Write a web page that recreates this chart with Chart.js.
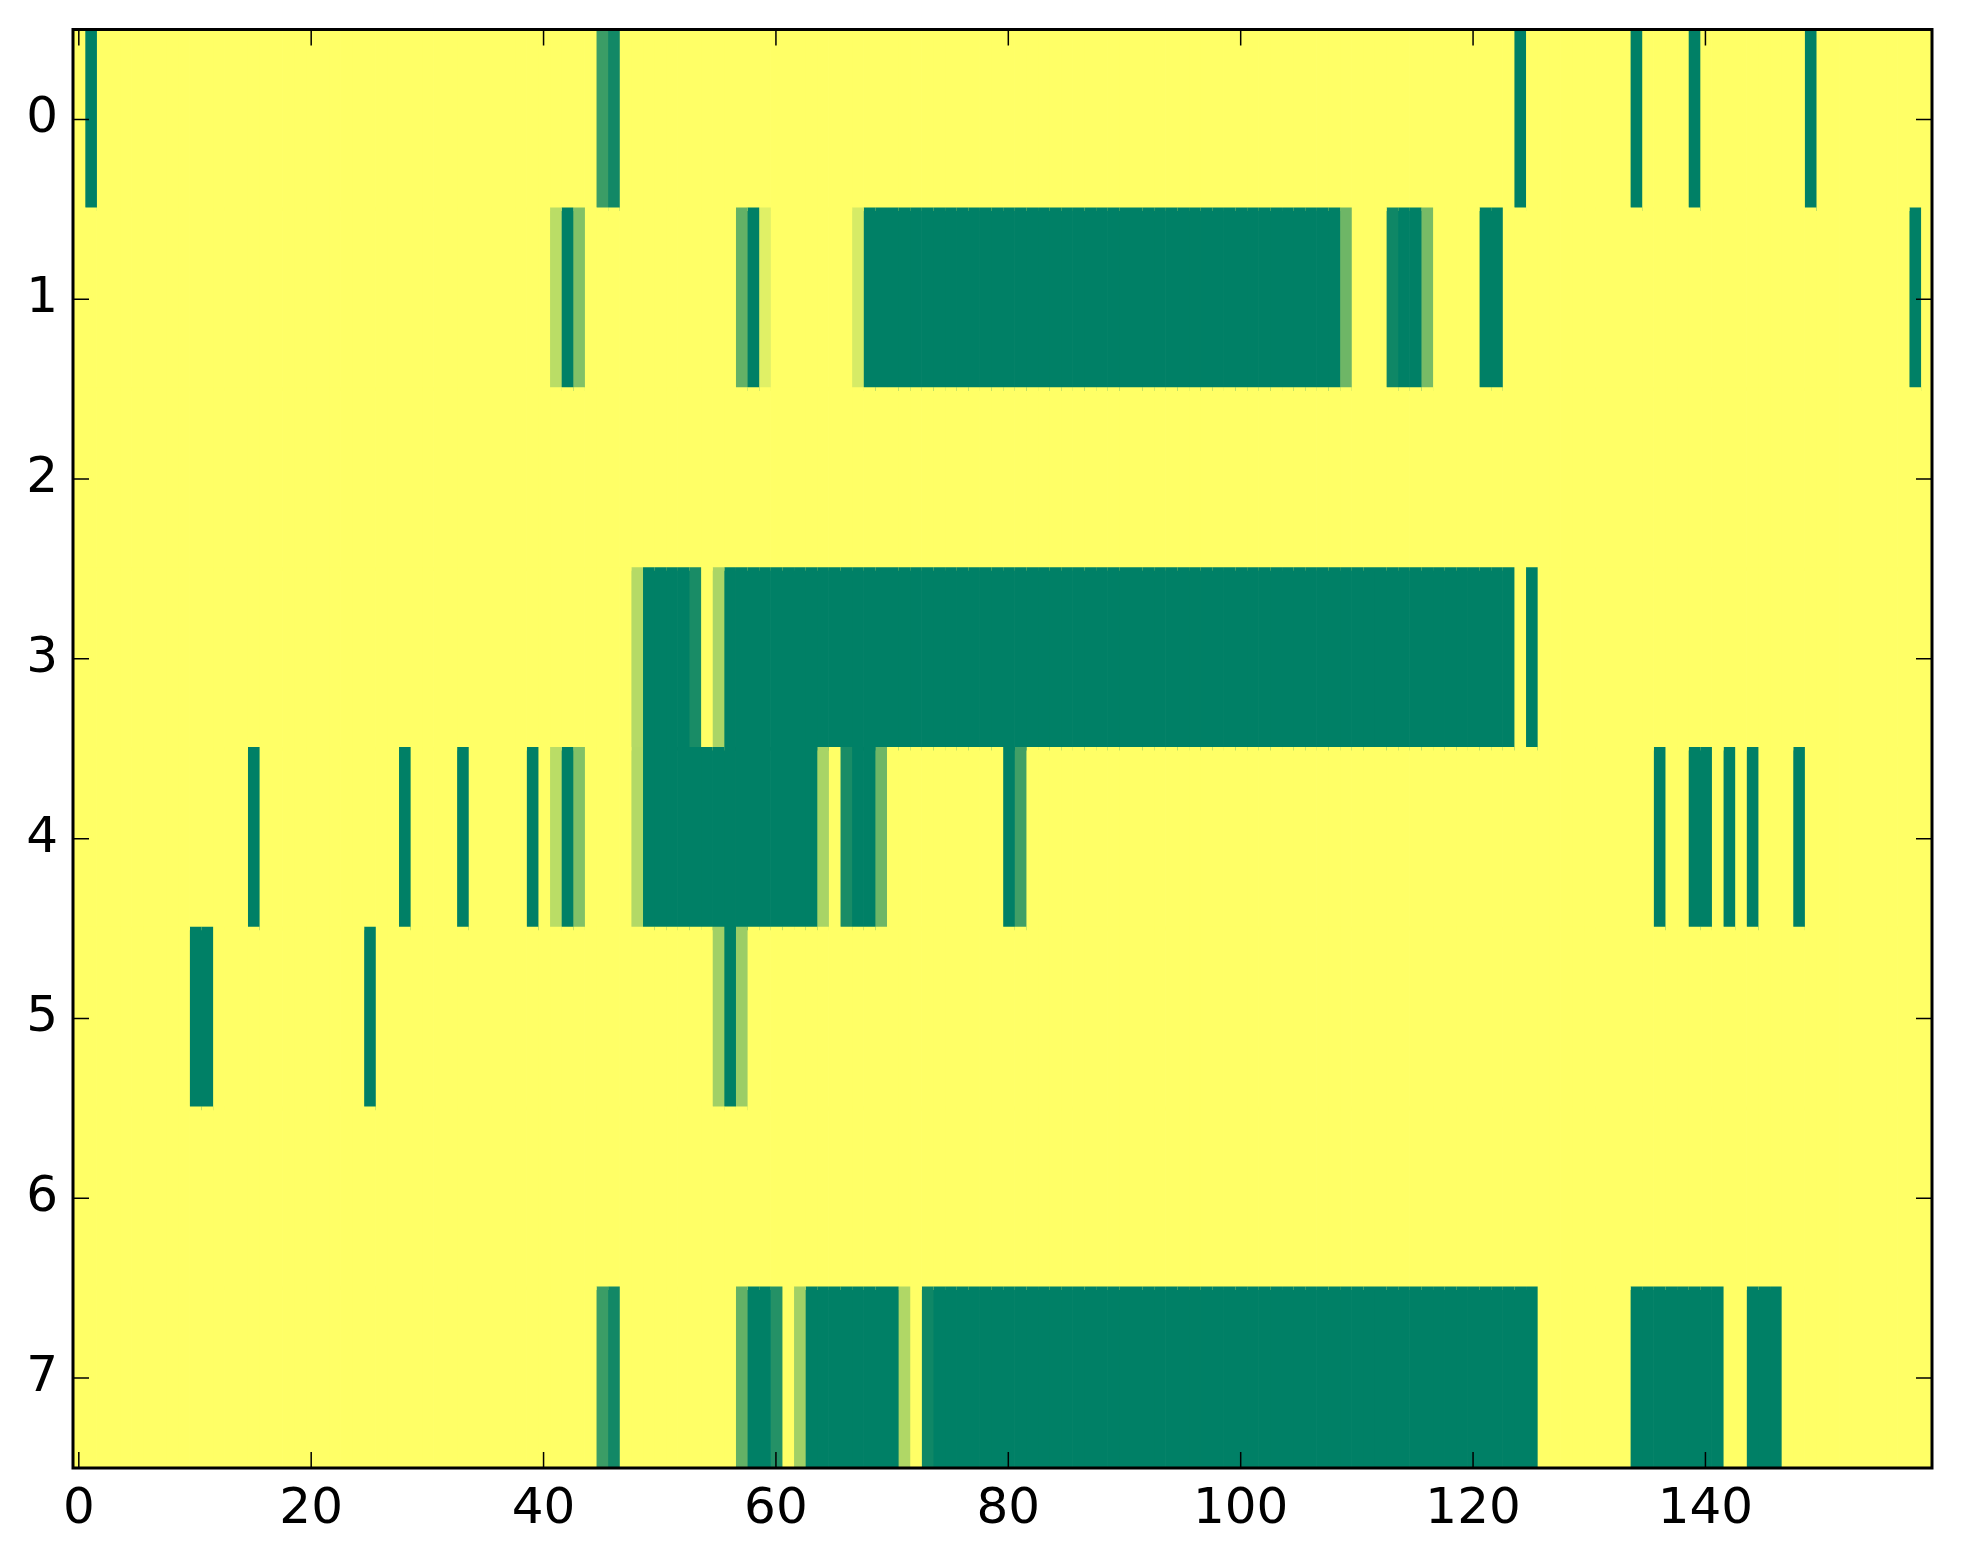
<!DOCTYPE html>
<html><head><meta charset="utf-8">
<script src="https://cdn.jsdelivr.net/npm/chart.js@4/dist/chart.umd.min.js"></script>
<style>html,body{margin:0;padding:0;background:#fff;} #wrap{width:1963px;height:1564px;}</style>
</head><body><div id="wrap"><canvas id="c" width="1963" height="1564"></canvas></div>
<script>
const rowLabels = ['0','1','2','3','4','5','6','7'];
const xTicks = [0,20,40,60,80,100,120,140];
const colIndex = [];
for (let c = 0; c < 160; c++) colIndex.push(c);

const row0 = [
0,1,0,0,0,0,0,0,0,0, 0,0,0,0,0,0,0,0,0,0,
0,0,0,0,0,0,0,0,0,0, 0,0,0,0,0,0,0,0,0,0,
0,0,0,0,0,0.77,0.93,0,0,0, 0,0,0,0,0,0,0,0,0,0,
0,0,0,0,0,0,0,0,0,0, 0,0,0,0,0,0,0,0,0,0,
0,0,0,0,0,0,0,0,0,0, 0,0,0,0,0,0,0,0,0,0,
0,0,0,0,0,0,0,0,0,0, 0,0,0,0,0,0,0,0,0,0,
0,0,0,0,1,0,0,0,0,0, 0,0,0,0,1,0,0,0,0,1,
0,0,0,0,0,0,0,0,0,1, 0,0,0,0,0,0,0,0,0,0
];
const row1 = [
0,0,0,0,0,0,0,0,0,0, 0,0,0,0,0,0,0,0,0,0,
0,0,0,0,0,0,0,0,0,0, 0,0,0,0,0,0,0,0,0,0,
0,0.27,1,0.49,0,0,0,0,0,0, 0,0,0,0,0,0,0,0.61,1,0.12,
0,0,0,0,0,0,0,0.16,1,1, 1,1,1,1,1,1,1,1,1,1,
1,1,1,1,1,1,1,1,1,1, 1,1,1,1,1,1,1,1,1,1,
1,1,1,1,1,1,1,1,1,0.57, 0,0,0,0.94,1,1,0.53,0,0,0,
0,1,1,0,0,0,0,0,0,0, 0,0,0,0,0,0,0,0,0,0,
0,0,0,0,0,0,0,0,0,0, 0,0,0,0,0,0,0,0,1,0
];
const row2 = [
0,0,0,0,0,0,0,0,0,0, 0,0,0,0,0,0,0,0,0,0,
0,0,0,0,0,0,0,0,0,0, 0,0,0,0,0,0,0,0,0,0,
0,0,0,0,0,0,0,0,0,0, 0,0,0,0,0,0,0,0,0,0,
0,0,0,0,0,0,0,0,0,0, 0,0,0,0,0,0,0,0,0,0,
0,0,0,0,0,0,0,0,0,0, 0,0,0,0,0,0,0,0,0,0,
0,0,0,0,0,0,0,0,0,0, 0,0,0,0,0,0,0,0,0,0,
0,0,0,0,0,0,0,0,0,0, 0,0,0,0,0,0,0,0,0,0,
0,0,0,0,0,0,0,0,0,0, 0,0,0,0,0,0,0,0,0,0
];
const row3 = [
0,0,0,0,0,0,0,0,0,0, 0,0,0,0,0,0,0,0,0,0,
0,0,0,0,0,0,0,0,0,0, 0,0,0,0,0,0,0,0,0,0,
0,0,0,0,0,0,0,0,0.29,1, 1,1,1,0.9,0,0.33,1,1,1,1,
1,1,1,1,1,1,1,1,1,1, 1,1,1,1,1,1,1,1,1,1,
1,1,1,1,1,1,1,1,1,1, 1,1,1,1,1,1,1,1,1,1,
1,1,1,1,1,1,1,1,1,1, 1,1,1,1,1,1,1,1,1,1,
1,1,1,1,0,1,0,0,0,0, 0,0,0,0,0,0,0,0,0,0,
0,0,0,0,0,0,0,0,0,0, 0,0,0,0,0,0,0,0,0,0
];
const row4 = [
0,0,0,0,0,0,0,0,0,0, 0,0,0,0,0,1,0,0,0,0,
0,0,0,0,0,0,0,0,1,0, 0,0,0,1,0,0,0,0,0,1,
0,0.27,1,0.49,0,0,0,0,0.3,1, 1,1,1,1,1,1,1,1,1,1,
1,1,1,1,0.34,0,0.9,1,1,0.57, 0,0,0,0,0,0,0,0,0,0,
1,0.75,0,0,0,0,0,0,0,0, 0,0,0,0,0,0,0,0,0,0,
0,0,0,0,0,0,0,0,0,0, 0,0,0,0,0,0,0,0,0,0,
0,0,0,0,0,0,0,0,0,0, 0,0,0,0,0,0,1,0,0,1,
1,0,1,0,1,0,0,0,1,0, 0,0,0,0,0,0,0,0,0,0
];
const row5 = [
0,0,0,0,0,0,0,0,0,0, 1,1,0,0,0,0,0,0,0,0,
0,0,0,0,0,1,0,0,0,0, 0,0,0,0,0,0,0,0,0,0,
0,0,0,0,0,0,0,0,0,0, 0,0,0,0,0,0.37,1,0.39,0,0,
0,0,0,0,0,0,0,0,0,0, 0,0,0,0,0,0,0,0,0,0,
0,0,0,0,0,0,0,0,0,0, 0,0,0,0,0,0,0,0,0,0,
0,0,0,0,0,0,0,0,0,0, 0,0,0,0,0,0,0,0,0,0,
0,0,0,0,0,0,0,0,0,0, 0,0,0,0,0,0,0,0,0,0,
0,0,0,0,0,0,0,0,0,0, 0,0,0,0,0,0,0,0,0,0
];
const row6 = [
0,0,0,0,0,0,0,0,0,0, 0,0,0,0,0,0,0,0,0,0,
0,0,0,0,0,0,0,0,0,0, 0,0,0,0,0,0,0,0,0,0,
0,0,0,0,0,0,0,0,0,0, 0,0,0,0,0,0,0,0,0,0,
0,0,0,0,0,0,0,0,0,0, 0,0,0,0,0,0,0,0,0,0,
0,0,0,0,0,0,0,0,0,0, 0,0,0,0,0,0,0,0,0,0,
0,0,0,0,0,0,0,0,0,0, 0,0,0,0,0,0,0,0,0,0,
0,0,0,0,0,0,0,0,0,0, 0,0,0,0,0,0,0,0,0,0,
0,0,0,0,0,0,0,0,0,0, 0,0,0,0,0,0,0,0,0,0
];
const row7 = [
0,0,0,0,0,0,0,0,0,0, 0,0,0,0,0,0,0,0,0,0,
0,0,0,0,0,0,0,0,0,0, 0,0,0,0,0,0,0,0,0,0,
0,0,0,0,0,0.77,0.93,0,0,0, 0,0,0,0,0,0,0,0.61,1,1,
0.86,0,0.37,1,1,1,1,1,1,1, 1,0.31,0,0.94,1,1,1,1,1,1,
1,1,1,1,1,1,1,1,1,1, 1,1,1,1,1,1,1,1,1,1,
1,1,1,1,1,1,1,1,1,1, 1,1,1,1,1,1,1,1,1,1,
1,1,1,1,1,1,0,0,0,0, 0,0,0,0,1,1,1,1,1,1,
1,1,0,0,1,1,1,0,0,0, 0,0,0,0,0,0,0,0,0,0
];
const rows = [row0,row1,row2,row3,row4,row5,row6,row7];

function summerR(t) {
  const r = Math.round(255 * (1 - t));
  const g = Math.round(255 * (1 - t / 2));
  return 'rgb(' + r + ',' + g + ',102)';
}

const datasets = colIndex.map(c => ({
  data: rows.map((row, i) => ({ x: [c - 0.5, c + 0.56], y: rowLabels[i] })),
  backgroundColor: rows.map(row => summerR(row[c])),
  borderWidth: 0,
  barPercentage: 1.02,
  categoryPercentage: 1.0,
  grouped: false
}));

const framePlugin = {
  id: 'frame',
  afterDraw(chart) {
    const ctx = chart.ctx;
    const a = chart.chartArea;
    const xs = chart.scales.x, ys = chart.scales.y;
    ctx.save();
    ctx.strokeStyle = '#000';
    ctx.lineWidth = 1.5;
    const tl = 16;
    xTicks.forEach(v => {
      const px = xs.getPixelForValue(v);
      ctx.beginPath();
      ctx.moveTo(px, a.bottom); ctx.lineTo(px, a.bottom - tl);
      ctx.moveTo(px, a.top); ctx.lineTo(px, a.top + tl);
      ctx.stroke();
    });
    rowLabels.forEach((lab, i) => {
      const py = ys.getPixelForValue(i);
      ctx.beginPath();
      ctx.moveTo(a.left, py); ctx.lineTo(a.left + tl, py);
      ctx.moveTo(a.right, py); ctx.lineTo(a.right - tl, py);
      ctx.stroke();
    });
    ctx.lineWidth = 3;
    ctx.strokeRect(a.left, a.top, a.right - a.left, a.bottom - a.top);
    ctx.restore();
  }
};

new Chart(document.getElementById('c').getContext('2d'), {
  type: 'bar',
  data: { labels: rowLabels, datasets: datasets },
  options: {
    indexAxis: 'y',
    responsive: false,
    animation: false,
    devicePixelRatio: 1,
    plugins: { legend: { display: false }, tooltip: { enabled: false } },
    layout: { padding: { top: 29.5, right: 31, left: 0, bottom: 0 } },
    scales: {
      x: {
        type: 'linear', min: -0.5, max: 159.5,
        grid: { display: false, drawTicks: false },
        border: { display: false },
        afterBuildTicks: s => { s.ticks = xTicks.map(v => ({ value: v })); },
        afterFit: s => { s.height = 96; s.paddingLeft = 0; s.paddingRight = 0; },
        ticks: { font: { family: 'DejaVu Sans', size: 50 }, color: '#000', padding: 12, maxRotation: 0, autoSkip: false }
      },
      y: {
        type: 'category', offset: true,
        grid: { display: false, drawTicks: false },
        border: { display: false },
        afterFit: s => { s.width = 73; s.paddingTop = 0; s.paddingBottom = 0; },
        ticks: { font: { family: 'DejaVu Sans', size: 50 }, color: '#000', padding: 15 }
      }
    }
  },
  plugins: [framePlugin]
});
</script>
</body></html>
